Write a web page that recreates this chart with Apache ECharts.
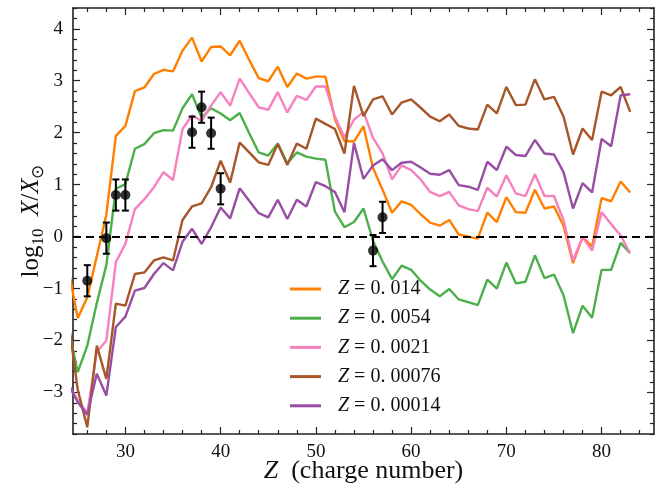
<!DOCTYPE html>
<html>
<head>
<meta charset="utf-8">
<script src="https://cdn.jsdelivr.net/npm/echarts@6/dist/echarts.min.js"></script>
<style>html,body{margin:0;padding:0;background:#fff}#c{width:663px;height:491px}</style>
</head>
<body>
<div id="c"></div>
<script>
// ---- data ----
const chargeNumbers = [24,25,26,27,28,29,30,31,32,33,34,35,36,37,38,39,40,41,42,43,44,45,46,47,48,49,50,51,52,53,
  54,55,56,57,58,59,60,61,62,63,64,65,66,67,68,69,70,71,72,73,74,75,76,77,78,79,80,81,82,83];
const metallicityLabels = ['0. 014', '0. 0054', '0. 0021', '0. 00076', '0. 00014'];
const seriesZ0014 = [-0.61,-1.57,-1.17,-0.38,0.42,1.94,2.13,2.80,2.87,3.13,3.21,3.18,3.58,3.83,3.37,3.65,3.66,3.49,3.77,3.40,
  3.05,2.99,3.27,2.88,3.14,3.04,3.08,3.08,2.26,1.84,1.83,2.12,1.32,0.90,0.46,0.68,0.61,0.43,0.27,0.21,
  0.32,0.04,0.00,-0.04,0.46,0.28,0.76,0.47,0.46,0.90,0.54,0.58,0.21,-0.51,-0.01,-0.19,0.74,0.68,1.06,0.85];
const seriesZ0054 = [-1.74,-2.61,-2.10,-1.28,-0.55,0.92,1.01,1.69,1.78,1.99,2.05,2.04,2.47,2.74,2.29,2.47,2.37,2.24,2.38,1.99,
  1.62,1.56,1.79,1.41,1.62,1.54,1.50,1.48,0.48,0.18,0.28,0.54,-0.08,-0.48,-0.82,-0.56,-0.64,-0.85,-1.02,-1.15,
  -1.01,-1.21,-1.26,-1.32,-0.83,-1.00,-0.50,-0.90,-0.87,-0.36,-0.80,-0.73,-1.13,-1.86,-1.33,-1.56,-0.64,-0.64,-0.12,-0.32];
const seriesZ0021 = [-2.85,-3.15,-3.40,-2.22,-2.00,-0.49,-0.14,0.53,0.72,0.95,1.24,1.09,2.07,2.33,2.23,2.52,2.78,2.52,3.04,2.76,
  2.49,2.44,2.78,2.39,2.71,2.63,2.89,2.89,2.31,1.91,2.25,2.40,1.90,1.60,1.10,1.37,1.28,1.10,0.86,0.78,
  0.86,0.60,0.53,0.49,0.94,0.77,1.18,0.83,0.78,1.20,0.78,0.78,0.32,-0.46,-0.01,-0.27,0.47,0.24,0.02,-0.32];
const seriesZ00076 = [-1.59,-2.95,-3.67,-2.10,-2.74,-1.29,-1.33,-0.72,-0.69,-0.46,-0.40,-0.46,0.32,0.58,0.64,0.95,1.46,1.04,1.81,1.62,
  1.43,1.38,1.78,1.38,1.79,1.69,2.27,2.17,2.07,1.60,2.90,2.32,2.64,2.70,2.35,2.58,2.64,2.48,2.31,2.22,
  2.35,2.13,2.08,2.06,2.54,2.37,2.88,2.53,2.54,3.03,2.64,2.69,2.31,1.58,2.08,1.86,2.79,2.72,2.88,2.40];
const seriesZ00014 = [-2.83,-3.19,-3.43,-2.64,-3.06,-1.74,-1.54,-1.04,-0.99,-0.72,-0.51,-0.65,-0.10,0.15,-0.14,0.18,0.56,0.35,0.93,0.69,
  0.45,0.37,0.71,0.34,0.71,0.58,1.05,0.97,0.86,0.47,1.80,1.11,1.37,1.49,1.28,1.42,1.44,1.33,1.21,1.19,
  1.28,0.99,0.96,0.90,1.44,1.28,1.73,1.57,1.55,1.86,1.60,1.58,1.24,0.54,1.03,0.85,1.88,1.74,2.72,2.74];
const obsZ = [26, 28, 29, 30, 37, 38, 39, 40, 56, 57];
const obsValue = [-0.85, -0.03, 0.80, 0.80, 2.01, 2.49, 1.99, 0.92, -0.27, 0.37];
const obsError = [0.30, 0.30, 0.30, 0.30, 0.30, 0.30, 0.30, 0.30, 0.30, 0.30];
const xTickLabels = [30, 40, 50, 60, 70, 80];
const yTickLabels = [-3, -2, -1, 0, 1, 2, 3, 4];

// ---- chart ----
const allSeries = [seriesZ0014, seriesZ0054, seriesZ0021, seriesZ00076, seriesZ00014];
const colors = ['#ff7f00', '#4daf4a', '#f781bf', '#a65628', '#984ea3'];
const FONT = 'Liberation Serif';
const X_MIN = 24.5, X_MAX = 85.5, Y_MIN = -3.8, Y_MAX = 4.4;

const xMinor = [], yMinor = [];
for (let i = 26; i <= 84; i += 2) if (i % 10 !== 0) xMinor.push(i);
for (let i = -19; i <= 22; i++) if (i % 5 !== 0) yMinor.push(+(i * 0.2).toFixed(1));

const gridPos = { left: 73, right: 9, top: 8, bottom: 57, containLabel: false, outerBoundsMode: 'none' };
const lineCol = '#222';

function xAx(grid, pos, major) {
  return {
    type: 'value', gridIndex: grid, position: pos, min: X_MIN, max: X_MAX,
    axisLine: { show: major, onZero: false, lineStyle: { color: lineCol, width: 1.6 } },
    axisTick: { show: true, inside: true, length: major ? 7 : 4, customValues: major ? xTickLabels : xMinor,
      lineStyle: { color: lineCol, width: 1.2 } },
    axisLabel: { show: major && pos === 'bottom', customValues: xTickLabels, fontFamily: FONT, fontSize: 19, color: '#111', margin: 9 },
    splitLine: { show: false },
    ...(major && pos === 'bottom' ? {
      name: '{i|Z}{n|  (charge number)}', nameLocation: 'middle', nameGap: 24, nameMoveOverlap: false,
      nameTextStyle: { rich: {
        i: { fontFamily: FONT, fontStyle: 'italic', fontSize: 26, color: '#111' },
        n: { fontFamily: FONT, fontSize: 26, color: '#111' } } }
    } : {})
  };
}
function yAx(grid, pos, major) {
  return {
    type: 'value', gridIndex: grid, position: pos, min: Y_MIN, max: Y_MAX,
    axisLine: { show: major, onZero: false, lineStyle: { color: lineCol, width: 1.6 } },
    axisTick: { show: true, inside: true, length: major ? 7 : 4, customValues: major ? yTickLabels : yMinor,
      lineStyle: { color: lineCol, width: 1.2 } },
    axisLabel: { show: major && pos === 'left', customValues: yTickLabels, fontFamily: FONT, fontSize: 19, color: '#111', margin: 10,
      formatter: v => String(v).replace('-', '\u2212') },
    splitLine: { show: false },
    ...(major && pos === 'left' ? {
      name: '{n|log}{s|10}{n|  }{i|X}{n|/}{i|X}{s|\u2299}', nameLocation: 'middle', nameGap: 26, nameRotate: 90,
      nameMoveOverlap: false,
      nameTextStyle: { rich: {
        n: { fontFamily: FONT, fontSize: 25, color: '#111', lineHeight: 32, verticalAlign: 'middle' },
        i: { fontFamily: FONT, fontStyle: 'italic', fontSize: 25, color: '#111', lineHeight: 32, verticalAlign: 'middle' },
        s: { fontFamily: FONT, fontSize: 17, color: '#111', lineHeight: 32, verticalAlign: 'bottom' } } }
    } : {})
  };
}

const lineSeries = allSeries.map((vals, k) => ({
  name: 'Z = ' + metallicityLabels[k],
  type: 'line', xAxisIndex: 0, yAxisIndex: 0,
  data: chargeNumbers.map((z, i) => [z, vals[i]]),
  showSymbol: false, symbol: 'none', clip: true,
  lineStyle: { color: colors[k], width: 2.4 },
  itemStyle: { color: colors[k] },
  z: 2 + k,
  ...(k === 0 ? { markLine: { silent: true, symbol: 'none', label: { show: false },
      lineStyle: { color: '#000', type: [8, 5], width: 2 }, data: [{ yAxis: 0 }], z: 10 } } : {})
}));

const errData = obsZ.map((z, i) => [z, obsValue[i], obsError[i]]);

const option = {
  animation: false,
  backgroundColor: '#fff',
  grid: [gridPos, gridPos],
  xAxis: [xAx(0, 'bottom', true), xAx(0, 'top', true), xAx(1, 'bottom', false), xAx(1, 'top', false)],
  yAxis: [yAx(0, 'left', true), yAx(0, 'right', true), yAx(1, 'left', false), yAx(1, 'right', false)],
  legend: {
    orient: 'vertical', left: 285, top: 274, itemWidth: 31, itemHeight: 3, itemGap: 9.2, icon: 'rect',
    data: lineSeries.map(s => s.name),
    formatter: name => {
      const idx = lineSeries.findIndex(s => s.name === name);
      return '{i|Z}{n| = ' + metallicityLabels[idx] + '}';
    },
    textStyle: { rich: {
      i: { fontFamily: FONT, fontStyle: 'italic', fontSize: 20, color: '#111', lineHeight: 20, padding: [0, 0, 0, 12] },
      n: { fontFamily: FONT, fontSize: 20, color: '#111', lineHeight: 20 } } }
  },
  series: [
    ...lineSeries,
    {
      type: 'custom', xAxisIndex: 0, yAxisIndex: 0, z: 20, data: errData,
      renderItem: (params, api) => {
        const x = api.value(0), y = api.value(1), e = api.value(2);
        const top = api.coord([x, y + e]);
        const bot = api.coord([x, y - e]);
        const st = { stroke: '#000', lineWidth: 2 };
        const cw = 3.5;
        return { type: 'group', children: [
          { type: 'line', shape: { x1: top[0], y1: top[1], x2: bot[0], y2: bot[1] }, style: st },
          { type: 'line', shape: { x1: top[0] - cw, y1: top[1], x2: top[0] + cw, y2: top[1] }, style: st },
          { type: 'line', shape: { x1: bot[0] - cw, y1: bot[1], x2: bot[0] + cw, y2: bot[1] }, style: st }
        ] };
      }
    },
    {
      type: 'scatter', xAxisIndex: 0, yAxisIndex: 0, z: 21, symbolSize: 10,
      itemStyle: { color: '#000' },
      data: obsZ.map((z, i) => [z, obsValue[i]])
    }
  ]
};
const chart = echarts.init(document.getElementById('c'), null, { renderer: 'canvas' });
chart.setOption(option);
</script>
</body>
</html>
